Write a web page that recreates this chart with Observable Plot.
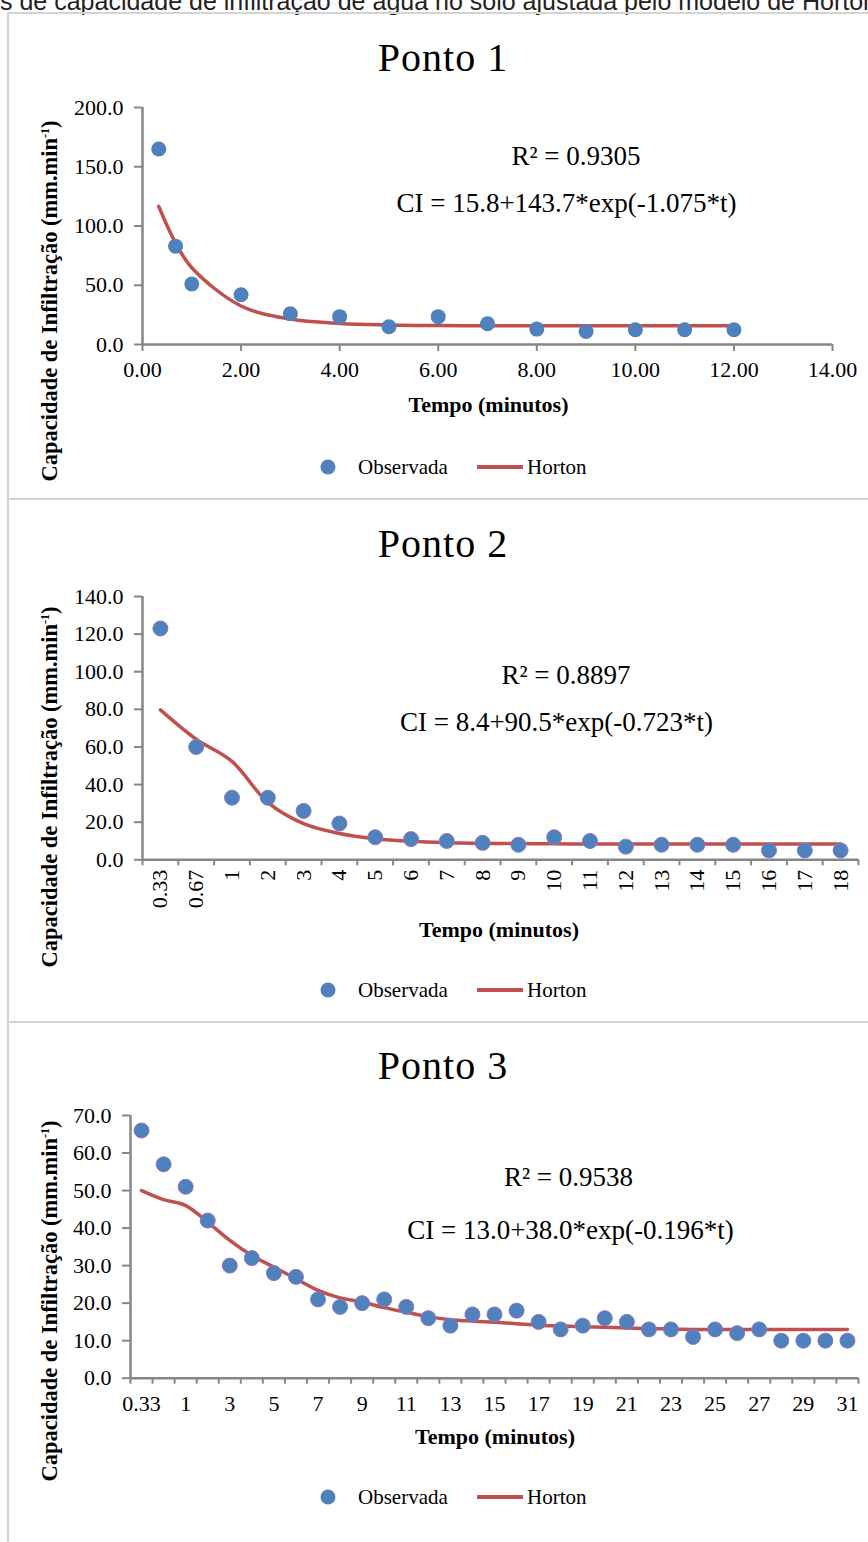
<!DOCTYPE html>
<html><head><meta charset="utf-8">
<script src="https://cdn.jsdelivr.net/npm/d3@7"></script>
<script src="https://cdn.jsdelivr.net/npm/@observablehq/plot@0.6"></script>
<style>
body{margin:0;background:#fff;}
#root{position:relative;width:868px;height:1542px;overflow:hidden;background:#fff;font-family:'Liberation Serif','Times New Roman',serif;color:#000;}
.frame{position:absolute;border:2px solid #d4d4d4;box-sizing:border-box;background:transparent;}
.t{position:absolute;white-space:nowrap;line-height:1;transform:translate(-50%,-50%);}
.title{font-size:40px;letter-spacing:1px;}
.ann{font-size:27px;}
.xt{font-size:22px;font-weight:bold;}
.yt{font-size:22.5px;font-weight:bold;transform:translate(-50%,-50%) rotate(-90deg);}
.yt sup{font-size:12px;}
.leg{position:absolute;font-size:21px;line-height:1;white-space:nowrap;transform:translateY(-50%);}
.ldot{position:absolute;width:15px;height:15px;border-radius:50%;transform:translate(-50%,-50%);}
.lline{position:absolute;width:46px;height:4px;transform:translateY(-50%);}
#caption{position:absolute;left:0;top:-11px;font-family:'Liberation Sans',Arial,sans-serif;font-size:25px;line-height:25px;white-space:nowrap;color:#222;}
</style></head>
<body>
<div id="root">
  <div id="caption">s de capacidade de infiltração de água no solo ajustada pelo modelo de Horton</div>
</div>
<script>
// ---------- DATA ----------
// Ponto 1 (numeric time axis, minutes)
const tempo1 = [0.33, 0.67, 1, 2, 3, 4, 5, 6, 7, 8, 9, 10, 11, 12];
const observada1 = [165, 83, 51, 42, 26, 23.5, 15, 23.5, 17.5, 13, 11, 12.5, 12.5, 12.5];
const horton1 = [116.5, 85.8, 64.8, 32.5, 21.5, 17.8, 16.5, 16.0, 15.9, 15.8, 15.8, 15.8, 15.8, 15.8];
const xTicks1 = [0, 2, 4, 6, 8, 10, 12, 14];
const yTicks1 = [0, 50, 100, 150, 200];

// Ponto 2 (category time axis)
const tempo2 = ["0.33","0.67","1","2","3","4","5","6","7","8","9","10","11","12","13","14","15","16","17","18"];
const observada2 = [123, 60, 33, 33, 26, 19.3, 12, 11, 10, 9, 8, 12, 10, 7, 8, 8, 8, 5, 5, 5];
const horton2 = [79.7, 64.1, 52.3, 30.5, 19.2, 14.0, 11.2, 9.8, 9.1, 8.8, 8.6, 8.5, 8.4, 8.4, 8.4, 8.4, 8.4, 8.4, 8.4, 8.4];
const yTicks2 = [0, 20, 40, 60, 80, 100, 120, 140];

// Ponto 3 (category time axis)
const tempo3 = ["0.33","0.67","1","2","3","4","5","6","7","8","9","10","11","12","13","14","15","16","17","18","19","20","21","22","23","24","25","26","27","28","29","30","31"];
const observada3 = [66, 57, 51, 42, 30, 32, 28, 27, 21, 19, 20, 21, 19, 16, 14, 17, 17, 18, 15, 13, 14, 16, 15, 13, 13, 11, 13, 12, 13, 10, 10, 10, 10];
const horton3 = [50.0, 47.6, 46.0, 41.6, 36.7, 32.7, 29.6, 26.5, 23.4, 21.4, 20.3, 18.8, 17.6, 16.4, 15.6, 15.2, 14.9, 14.5, 14.1, 13.9, 13.7, 13.6, 13.4, 13.2, 13.1, 13.0, 13.0, 13.0, 13.0, 13.0, 13.0, 13.0, 13.0];
const yTicks3 = [0, 10, 20, 30, 40, 50, 60, 70];

const titles = ["Ponto 1", "Ponto 2", "Ponto 3"];
const r2Labels = ["R² = 0.9305", "R² = 0.8897", "R² = 0.9538"];
const eqLabels = ["CI = 15.8+143.7*exp(-1.075*t)", "CI = 8.4+90.5*exp(-0.723*t)", "CI = 13.0+38.0*exp(-0.196*t)"];
const xTitle = "Tempo (minutos)";
const yTitleHTML = "Capacidade de Infiltração (mm.min<sup>-1</sup>)";
const legendLabels = ["Observada", "Horton"];

// ---------- STYLE / LAYOUT ----------
const BLUE = "#4F81BD", RED = "#C0504D", AXIS = "#868686";
const W = 868, MT = 20, MB = 70;
const root = document.getElementById("root");
const FONT = "'Liberation Serif','Times New Roman',serif";

function addEl(html, cls, css) {
  const d = document.createElement("div");
  d.className = cls; d.innerHTML = html;
  Object.assign(d.style, css);
  root.appendChild(d);
  return d;
}

function placePlot(svg, top) {
  svg.style.position = "absolute";
  svg.style.left = "0px";
  svg.style.top = top + "px";
  root.appendChild(svg);
}

function commonOpts(box) {
  return {
    width: W,
    height: MT + (box.bottom - box.top) + MB,
    marginLeft: box.left,
    marginRight: W - box.right,
    marginTop: MT,
    marginBottom: MB,
    style: {fontFamily: FONT, fontSize: "22px", color: "#000", background: "transparent", overflow: "visible"}
  };
}

// frames
addEl("", "frame", {left: "7px", top: "12px", width: "900px", height: "488px"});
addEl("", "frame", {left: "7px", top: "498px", width: "900px", height: "525px"});
addEl("", "frame", {left: "7px", top: "1021px", width: "900px", height: "600px"});

// ---------- PANEL 1 ----------
const box1 = {left: 142, right: 832, top: 107, bottom: 344};
const d1 = tempo1.map((t, i) => ({t, obs: observada1[i], hor: horton1[i]}));
placePlot(Plot.plot({
  ...commonOpts(box1),
  x: {domain: [0, 14]},
  y: {domain: [0, 200]},
  marks: [
    Plot.axisY({ticks: yTicks1, tickFormat: d => d.toFixed(1), tickSize: 8, tickPadding: 11, stroke: AXIS, strokeWidth: 2, fill: "#000", label: null}),
    Plot.axisX({ticks: xTicks1, tickFormat: d => d.toFixed(2), tickSize: 7, tickPadding: 10, stroke: AXIS, strokeWidth: 2, fill: "#000", label: null}),
    Plot.ruleX([0], {stroke: AXIS, strokeWidth: 2.5}),
    Plot.ruleY([0], {stroke: AXIS, strokeWidth: 2.5}),
    Plot.line(d1, {x: "t", y: "hor", stroke: RED, strokeWidth: 3.5, curve: "catmull-rom"}),
    Plot.dot(d1, {x: "t", y: "obs", r: 7.5, fill: BLUE})
  ]
}), box1.top - MT);

// ---------- PANEL 2 ----------
const box2 = {left: 142, right: 858, top: 595.7, bottom: 859};
const d2 = tempo2.map((c, i) => ({i: i + 0.5, obs: observada2[i], hor: horton2[i]}));
placePlot(Plot.plot({
  ...commonOpts(box2),
  x: {domain: [0, tempo2.length]},
  y: {domain: [0, 140]},
  marks: [
    Plot.axisY({ticks: yTicks2, tickFormat: d => d.toFixed(1), tickSize: 8, tickPadding: 11, stroke: AXIS, strokeWidth: 2, fill: "#000", label: null}),
    Plot.axisX({ticks: d3.range(0, tempo2.length + 1), tickFormat: () => "", tickSize: 6, stroke: AXIS, strokeWidth: 2, label: null}),
    Plot.axisX({ticks: tempo2.map((c, i) => i + 0.5), tickFormat: d => tempo2[Math.floor(d)], tickSize: 0, tickPadding: 10, tickRotate: -90, fill: "#000", label: null}),
    Plot.ruleX([0], {stroke: AXIS, strokeWidth: 2.5}),
    Plot.ruleY([0], {stroke: AXIS, strokeWidth: 2.5}),
    Plot.line(d2, {x: "i", y: "hor", stroke: RED, strokeWidth: 3.5, curve: "catmull-rom"}),
    Plot.dot(d2, {x: "i", y: "obs", r: 7.5, fill: BLUE, stroke: "#8878c0", strokeWidth: 1})
  ]
}), box2.top - MT);

// ---------- PANEL 3 ----------
const box3 = {left: 130, right: 858, top: 1115, bottom: 1377.7};
const d3data = tempo3.map((c, i) => ({i: i + 0.5, obs: observada3[i], hor: horton3[i]}));
placePlot(Plot.plot({
  ...commonOpts(box3),
  x: {domain: [0, tempo3.length]},
  y: {domain: [0, 70]},
  marks: [
    Plot.axisY({ticks: yTicks3, tickFormat: d => d.toFixed(1), tickSize: 8, tickPadding: 11, stroke: AXIS, strokeWidth: 2, fill: "#000", label: null}),
    Plot.axisX({ticks: d3.range(0, tempo3.length + 1), tickFormat: () => "", tickSize: 6, stroke: AXIS, strokeWidth: 2, label: null}),
    Plot.axisX({ticks: tempo3.map((c, i) => i + 0.5).filter((v, i) => i % 2 === 0), tickFormat: d => tempo3[Math.floor(d)], tickSize: 0, tickPadding: 17, fill: "#000", label: null}),
    Plot.ruleX([0], {stroke: AXIS, strokeWidth: 2.5}),
    Plot.ruleY([0], {stroke: AXIS, strokeWidth: 2.5}),
    Plot.line(d3data, {x: "i", y: "hor", stroke: RED, strokeWidth: 3.5, curve: "catmull-rom"}),
    Plot.dot(d3data, {x: "i", y: "obs", r: 7.5, fill: BLUE, stroke: "#8878c0", strokeWidth: 1})
  ]
}), box3.top - MT);

// ---------- TEXT OVERLAYS ----------
const titleY = [57.5, 544, 1065.5];
const r2Pos = [[576, 155.5], [566, 675], [568.5, 1176.7]];
const eqPos = [[566.5, 202.7], [556.5, 721.7], [570.5, 1230]];
const xtPos = [[488.5, 405], [499, 930], [495, 1436.7]];
const ytY = [301, 786.5, 1301];
const legY = [467, 990, 1497];

for (let k = 0; k < 3; k++) {
  addEl(titles[k], "t title", {left: "443px", top: titleY[k] + "px"});
  addEl(r2Labels[k], "t ann", {left: r2Pos[k][0] + "px", top: r2Pos[k][1] + "px"});
  addEl(eqLabels[k], "t ann", {left: eqPos[k][0] + "px", top: eqPos[k][1] + "px"});
  addEl(xTitle, "t xt", {left: xtPos[k][0] + "px", top: xtPos[k][1] + "px"});
  addEl(yTitleHTML, "t yt", {left: "50px", top: ytY[k] + "px"});
  addEl("", "ldot", {left: "328px", top: legY[k] + "px", background: BLUE});
  addEl(legendLabels[0], "leg", {left: "358px", top: legY[k] + "px"});
  addEl("", "lline", {left: "477px", top: legY[k] + "px", background: RED});
  addEl(legendLabels[1], "leg", {left: "527px", top: legY[k] + "px"});
}
</script>
</body></html>
